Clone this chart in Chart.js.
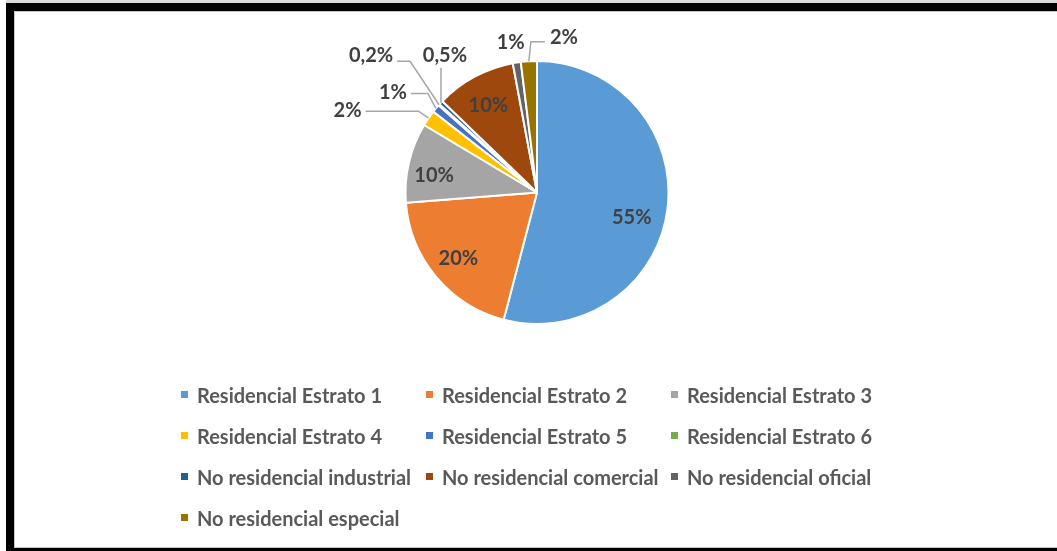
<!DOCTYPE html>
<html>
<head>
<meta charset="utf-8">
<script src="https://cdn.jsdelivr.net/npm/chart.js@4.4.1/dist/chart.umd.min.js"></script>
<style>
  html, body { margin: 0; padding: 0; background: #fff; }
  body { width: 1057px; height: 551px; position: relative; overflow: hidden; font-family: Lato, "Open Sans", sans-serif; }
  #topStrip { position: absolute; left: 6px; top: 0; width: 1051px; height: 3px; background: #d9d9d9; }
  #frame {
    position: absolute; left: 6px; top: 3px; width: 1100px; height: 537px;
    border: 8px solid #000; border-right: none;
    box-shadow: inset 1px 1px 0 #c4c4c4, inset 0 -1px 0 #c4c4c4;
    pointer-events: none; z-index: 2;
  }
  #chartBox { position: absolute; left: 0; top: 0; width: 1057px; height: 551px; z-index: 1; }
  #legend {
    position: absolute; left: 181px; top: 374px; z-index: 3;
    display: grid; grid-template-columns: repeat(3, 245px); grid-auto-rows: 41px;
  }
  .item { display: flex; align-items: center; font: bold 20px Lato, sans-serif; color: #595959; white-space: nowrap; }
  .box { width: 7px; height: 7px; margin-right: 9px; flex: none; }
</style>
</head>
<body>
<div id="topStrip"></div>
<div id="frame"></div>
<div id="chartBox"><canvas id="pie"></canvas></div>
<div id="legend"></div>

<script>
// --- data ---
const categories = [
  "Residencial Estrato 1", "Residencial Estrato 2", "Residencial Estrato 3",
  "Residencial Estrato 4", "Residencial Estrato 5", "Residencial Estrato 6",
  "No residencial industrial", "No residencial comercial", "No residencial oficial",
  "No residencial especial"
];
const shares = [55, 20, 10, 2, 1, 0.2, 0.5, 10, 1, 2];
const sliceColors = [
  "#5B9BD5", "#ED7D31", "#A5A5A5", "#FFC000", "#4472C4",
  "#70AD47", "#255E91", "#9E480E", "#636363", "#997300"
];

// labels drawn outside with a leader (offsets from the slice edge)
const callouts = {
  3: { dx: -81, dy: -8, elbow: [-10, -7], to: "right" },
  4: { dx: -43, dy: -16, elbow: [-8, -15], to: "right" },
  5: { dx: -68, dy: -49, elbow: [-29, -43.5], to: "right" },
  6: { dx: 4, dy: -47, elbow: [0, -35], to: null },
  8: { dx: -6, dy: -20, elbow: null, to: null },
  9: { dx: 35, dy: -24, elbow: [2, -19.5], to: "left" }
};
const insideNudge = { 0: [-7, 12], 2: [-3, 6], 7: [0, 3] };

const fmtPct = v => String(v).replace(".", ",") + "%";

const sliceLabels = {
  id: "sliceLabels",
  afterDatasetsDraw(chart) {
    const ctx = chart.ctx;
    const arcs = chart.getDatasetMeta(0).data;
    ctx.save();
    ctx.font = "bold 20px Lato, sans-serif";
    ctx.fillStyle = "#404040";
    ctx.textAlign = "center";
    ctx.textBaseline = "middle";
    ctx.strokeStyle = "#A6A6A6";
    ctx.lineWidth = 1.5;

    arcs.forEach((arc, i) => {
      const { x, y, startAngle, endAngle, outerRadius } = arc.getProps(["x", "y", "startAngle", "endAngle", "outerRadius"], true);
      const mid = (startAngle + endAngle) / 2;
      const text = fmtPct(shares[i]);
      const c = callouts[i];

      if (!c) {
        const n = insideNudge[i] || [0, 0];
        const r = outerRadius * 0.78;
        ctx.fillText(text, x + Math.cos(mid) * r + n[0], y + Math.sin(mid) * r + n[1]);
        return;
      }

      const ax = x + Math.cos(mid) * outerRadius;
      const ay = y + Math.sin(mid) * outerRadius;
      const lx = ax + c.dx, ly = ay + c.dy;
      const w = ctx.measureText(text).width;

      if (c.elbow) {
        const ex = ax + c.elbow[0], ey = ay + c.elbow[1];
        ctx.beginPath();
        ctx.moveTo(ax, ay);
        ctx.lineTo(ex, ey);
        if (c.to === "right") ctx.lineTo(lx + w / 2 + 4, ey);
        if (c.to === "left") ctx.lineTo(lx - w / 2 - 5, ey);
        ctx.stroke();
      }
      ctx.fillText(text, lx, ly);
    });
    ctx.restore();
  }
};

const chart = new Chart(document.getElementById("pie").getContext("2d"), {
  type: "pie",
  data: {
    labels: categories,
    datasets: [{
      data: shares,
      backgroundColor: sliceColors,
      borderColor: "#ffffff",
      borderWidth: 2
    }]
  },
  options: {
    responsive: true,
    maintainAspectRatio: false,
    animation: false,
    layout: { padding: { left: 404.5, right: 387.5, top: 60, bottom: 226 } },
    plugins: {
      legend: { display: false },
      tooltip: { enabled: false }
    }
  },
  plugins: [sliceLabels]
});

// legend as a 3-column grid, items taken from the chart
const legendEl = document.getElementById("legend");
Chart.overrides.pie.plugins.legend.labels.generateLabels(chart).forEach(item => {
  const div = document.createElement("div");
  div.className = "item";
  const box = document.createElement("span");
  box.className = "box";
  box.style.background = item.fillStyle;
  div.appendChild(box);
  div.appendChild(document.createTextNode(item.text));
  legendEl.appendChild(div);
});
</script>
</body>
</html>
